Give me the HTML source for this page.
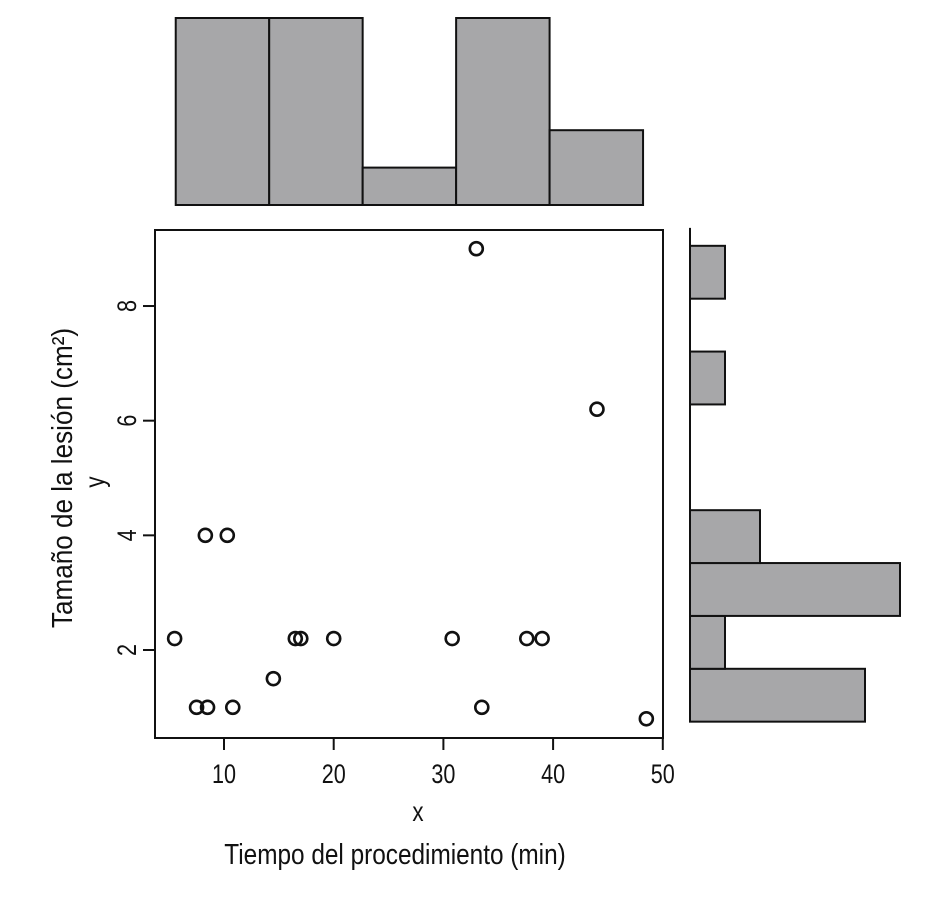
<!DOCTYPE html>
<html><head><meta charset="utf-8"><style>
body{margin:0;background:#fff}
svg text{font-family:"Liberation Sans",sans-serif;fill:#111}
</style></head><body>
<svg id="chart" width="941" height="895" viewBox="0 0 941 895" xmlns="http://www.w3.org/2000/svg">
<g id="top-hist"></g>
<g id="right-hist"></g>
<rect x="155" y="230" width="508" height="508" fill="none" stroke="#111" stroke-width="2"/>
<g id="axes"></g>
<g id="points"></g>
<text transform="translate(418,821) scale(0.8,1)" font-size="28" text-anchor="middle">x</text>
<text transform="translate(395,864) scale(0.84,1)" font-size="29" text-anchor="middle">Tiempo del procedimiento (min)</text>
<text transform="translate(104,482) rotate(-90) scale(0.8,1)" font-size="28" text-anchor="middle">y</text>
<text transform="translate(72,478) rotate(-90) scale(0.9,1)" font-size="29" text-anchor="middle">Tamaño de la lesión (cm²)</text>
</svg>
<script>
const xVals=[5.5,7.5,8.5,8.3,10.3,10.8,14.5,16.5,17,20,30.8,33,33.5,37.6,39,44,48.5];
const yVals=[2.2,1.0,1.0,4.0,4.0,1.0,1.5,2.2,2.2,2.2,2.2,9.0,1.0,2.2,2.2,6.2,0.8];
const xTicks=[10,20,30,40,50];
const yTicks=[2,4,6,8];
const topCounts=[5,5,1,5,2];
const topRange=[5.6,48.2];
const rightCounts=[5,1,6,2,0,0,1,0,1];
const rightRange=[0.75,9.05];
const NS="http://www.w3.org/2000/svg";
function xs(v){return 224+(v-10)*10.97;}
function ys(v){return 650-(v-2)*57.33;}
function mk(tag,attrs,parent){const e=document.createElementNS(NS,tag);for(const k in attrs)e.setAttribute(k,attrs[k]);parent.appendChild(e);return e;}
const axes=document.getElementById('axes');
xTicks.forEach(t=>{
 const l=mk('line',{x1:xs(t),x2:xs(t),y1:738,y2:750,stroke:'#111','stroke-width':2},axes);
 
 
 const tx=mk('text',{transform:`translate(${xs(t)},783) scale(0.8,1)`,'font-size':27,'text-anchor':'middle'},axes);tx.textContent=t;
 
 
});
yTicks.forEach(t=>{
 const l=mk('line',{x1:143,x2:155,y1:ys(t),y2:ys(t),stroke:'#111','stroke-width':2},axes);
 
 
 const tx=mk('text',{transform:`translate(136,${ys(t)}) rotate(-90) scale(0.8,1)`,'font-size':27,'text-anchor':'middle'},axes);tx.textContent=t;
 
 
});
const pts=document.getElementById('points');
xVals.forEach((x,i)=>{
 const c=mk('circle',{cx:xs(x),cy:ys(yVals[i]),r:6.5,fill:'none',stroke:'#111','stroke-width':2.6},pts);
 
 
});
const th=document.getElementById('top-hist');
const tw=(topRange[1]-topRange[0])/topCounts.length;
topCounts.forEach((c,i)=>{
 const x0=xs(topRange[0]+i*tw),x1=xs(topRange[0]+(i+1)*tw),h=c*37.4;
 const r=mk('rect',{x:x0,y:205-h,width:x1-x0,height:h,fill:'#a7a7a9',stroke:'#111','stroke-width':2},th);
 
 
});
const rh=document.getElementById('right-hist');
const rw=(rightRange[1]-rightRange[0])/rightCounts.length;
const ax=mk('line',{x1:690,x2:690,y1:ys(rightRange[1])-18,y2:ys(rightRange[0]),stroke:'#111','stroke-width':2},rh);


rightCounts.forEach((c,i)=>{
 if(!c)return;
 const y0=ys(rightRange[0]+(i+1)*rw),y1=ys(rightRange[0]+i*rw);
 const r=mk('rect',{x:690,y:y0,width:c*35,height:y1-y0,fill:'#a7a7a9',stroke:'#111','stroke-width':2},rh);
 
 
});
</script>
</body></html>
